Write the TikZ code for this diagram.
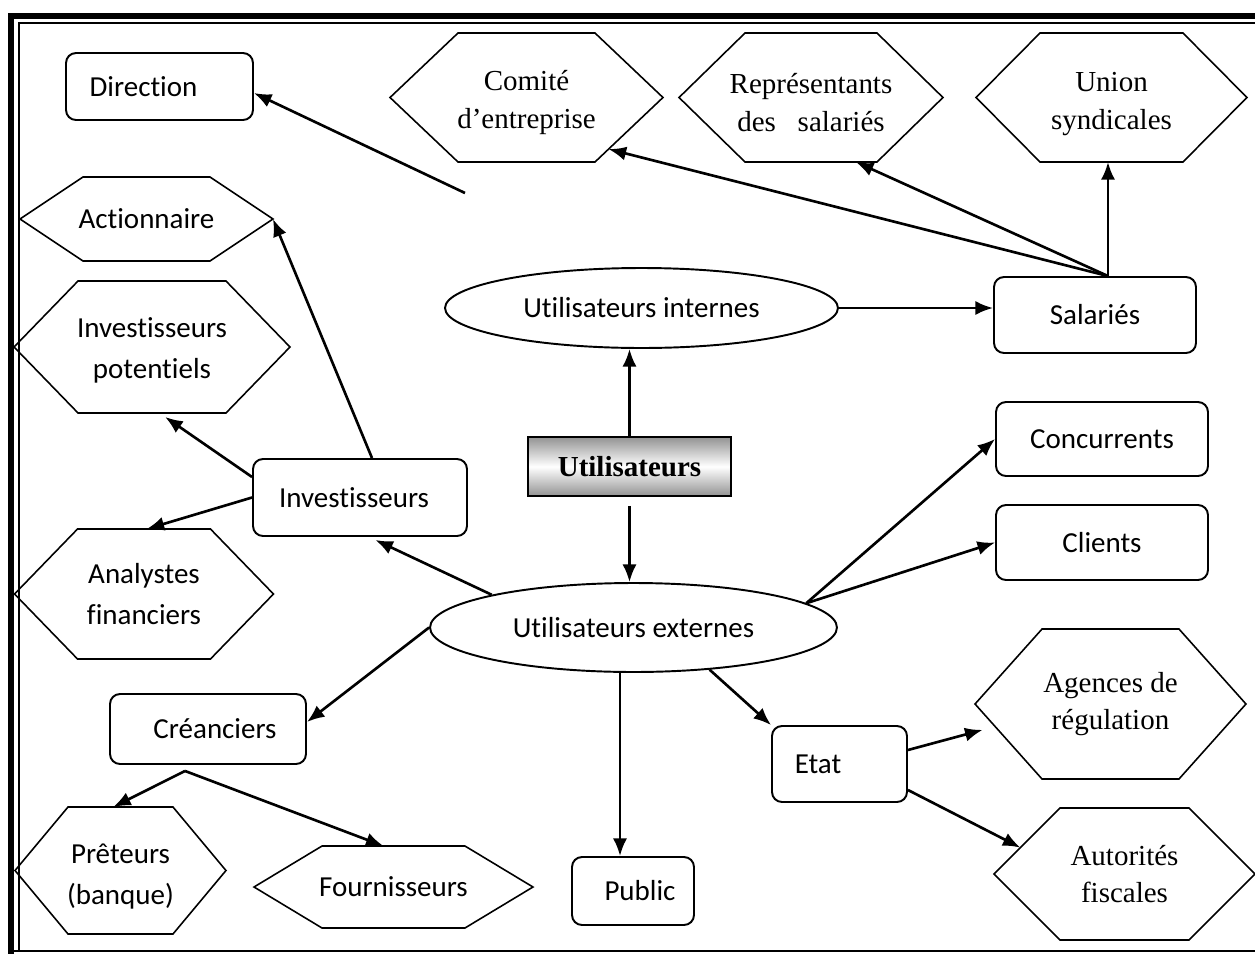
\documentclass[tikz,border=0pt]{standalone}
\usepackage{fontspec}
\setmainfont{Carlito}[Ligatures=NoCommon]
\newfontfamily\tnr{Liberation Serif}
\usepackage{tikz}
\usetikzlibrary{shapes, arrows.meta, calc}
\tikzstyle{boite} = [draw, rectangle, rounded corners=0.2cm, line width=1.1pt, fill=white, inner sep=2pt]
\tikzstyle{ovale} = [draw, ellipse, line width=1.1pt, fill=white, inner sep=0pt]
\tikzstyle{hexbox} = [rectangle, align=center, inner sep=0pt, outer sep=0pt]
\tikzstyle{hexline} = [line width=0.9pt, line join=miter]
\tikzstyle{fleche} = [->, line width=1.5pt]
\tikzstyle{romain} = [font=\tnr\fontsize{16.5}{21.5}\selectfont]

% hexagone : [options] nom, x, y, largeur, hauteur, retrait, texte
\newcommand{\hexa}[8][]{%
  \node [hexbox, #1, minimum width=#5, minimum height=#6] (#2) at (#3,#4) {#8};
  \coordinate (#2-nw) at ([xshift=#7]#2.north west);
  \coordinate (#2-ne) at ([xshift=-#7]#2.north east);
  \coordinate (#2-se) at ([xshift=-#7]#2.south east);
  \coordinate (#2-sw) at ([xshift=#7]#2.south west);
  \draw [hexline] (#2-nw) -- (#2-ne) -- (#2.east) -- (#2-se) -- (#2-sw) -- (#2.west) -- cycle;
}

\begin{document}
\begin{tikzpicture}[x=0.02cm, y=-0.02cm, >={Latex[length=10pt, width=8pt]}, font=\fontsize{16.5}{23}\selectfont]
        \useasboundingbox (0,0) rectangle (1255,954);

        % cadre
        \fill (8,13) rectangle (14,954);
        \fill (8,13) rectangle (1255,19);
        \draw [line width=0.7pt] (19,951) -- (19,23) -- (1255,23);
        \draw [line width=0.7pt] (14,951) -- (1255,951);

        % noeuds centraux
        \node [draw, line width=0.9pt, top color=gray!85, bottom color=gray!85, middle color=white,
               minimum width=4.06cm, minimum height=1.18cm, font=\tnr\bfseries\fontsize{16.5}{20}\selectfont]
               (util) at (629.5,466.5) {Utilisateurs};
        \node [ovale, minimum width=7.86cm, minimum height=1.6cm] (int) at (641.5,308) {Utilisateurs internes};
        \node [ovale, minimum width=8.14cm, minimum height=1.78cm] (ext) at (633.5,627.5) {Utilisateurs externes};

        % boites
        \node [boite, minimum width=3.74cm, minimum height=1.34cm] (dir) at (159.5,86.5) {Direction\kern0.64cm};
        \node [boite, minimum width=4.28cm, minimum height=1.54cm] (inv) at (360,497.5) {Investisseurs\kern0.24cm};
        \node [boite, minimum width=4.04cm, minimum height=1.52cm] (sal) at (1095,315) {Salariés};
        \node [boite, minimum width=4.24cm, minimum height=1.48cm] (con) at (1102,439) {Concurrents};
        \node [boite, minimum width=4.24cm, minimum height=1.5cm] (cli) at (1102,542.5) {Clients};
        \node [boite, minimum width=3.92cm, minimum height=1.4cm] (cre) at (208,729) {\kern0.28cm Créanciers};
        \node [boite, minimum width=2.44cm, minimum height=1.36cm] (pub) at (633,891) {\kern0.28cm Public};
        \node [boite, minimum width=2.7cm, minimum height=1.52cm] (eta) at (839.5,764) {Etat\kern0.86cm};

        % hexagones
        \hexa[romain]{com}{526.5}{97.5}{5.46cm}{2.58cm}{1.36cm}{\rule{0pt}{17pt}Comité\\d’entreprise}
        \hexa[romain]{rep}{811}{97.5}{5.28cm}{2.58cm}{1.32cm}{\rule{0pt}{17pt}Représentants\\des\ \ \ salariés}
        \hexa[romain]{uni}{1111.5}{97.5}{5.42cm}{2.58cm}{1.28cm}{\rule{0pt}{18pt}Union\\syndicales}
        \hexa{act}{146.5}{219}{5.06cm}{1.68cm}{1.26cm}{Actionnaire}
        \hexa{ipo}{152}{347}{5.52cm}{2.64cm}{1.28cm}{\rule{0pt}{15pt}Investisseurs\\potentiels}
        \hexa{ana}{144}{594}{5.18cm}{2.6cm}{1.26cm}{Analystes\\financiers}
        \hexa{pre}{120.5}{870.5}{4.22cm}{2.54cm}{1.06cm}{\rule{0pt}{18pt}Prêteurs\\(banque)}
        \hexa{fou}{393.5}{887}{5.58cm}{1.64cm}{1.36cm}{Fournisseurs}
        \hexa[romain]{agc}{1110.5}{704}{5.42cm}{3cm}{1.34cm}{Agences de\\régulation}
        \hexa[romain]{aut}{1124.5}{874}{5.22cm}{2.64cm}{1.32cm}{Autorités\\fiscales}

        % utilisateurs internes
        \draw [fleche] (util.north) -- (util.north |- int.south);
        \coordinate (dirA) at (465,193);
        \draw [fleche] (dirA) -- ([yshift=-0.13cm]dir.east);
        \draw [fleche] (int.east) -- (int.east -| sal.west);
        \coordinate (salN) at ([xshift=0.26cm]sal.north);
        \draw [fleche] (salN) -- ($(com-se)!0.2!(com.east)$);
        \draw [fleche] (salN) -- ($(rep-sw)!0.84!(rep-se)$);
        \draw [fleche] (salN) -- (salN |- uni.south);

        % utilisateurs externes
        \draw [fleche, shorten <=0.18cm] (util.south) -- (util.south |- ext.north);
        \draw [fleche, shorten >=0.14cm] (ext.167.5) -- ([xshift=0.18cm]inv.south);
        \draw [fleche] ([xshift=0.24cm]inv.north) -- (act.east);
        \draw [fleche, shorten >=0.14cm] ([yshift=0.41cm]inv.west) -- ($(ipo-sw)!0.55!(ipo-se)$);
        \draw [fleche] (inv.west) -- ($(ana-nw)!0.52!(ana-ne)$);
        \draw [fleche] (ext.8) -- (con.west);
        \draw [fleche] (ext.8) -- (cli.west);
        \draw [fleche] (ext.west) -- ([yshift=0.14cm]cre.east);
        \coordinate (creS) at ([xshift=-0.46cm, yshift=-0.12cm]cre.south);
        \draw [fleche] (creS) -- ($(pre-nw)!0.43!(pre-ne)$);
        \draw [fleche] (creS) -- ($(fou-nw)!0.43!(fou-ne)$);
        \coordinate (pubN) at ([xshift=-0.26cm]pub.north);
        \draw [fleche] (ext.south -| pubN) -- (pubN);
        \draw [fleche] (ext.-29.5) -- (eta.north west);
        \draw [fleche, shorten >=0.26cm] ([yshift=0.28cm]eta.east) -- ($(agc.west)!0.3!(agc-sw)$);
        \draw [fleche] ([yshift=-0.52cm]eta.east) -- ($(aut.west)!0.4!(aut-nw)$);
    \end{tikzpicture}
\end{document}
